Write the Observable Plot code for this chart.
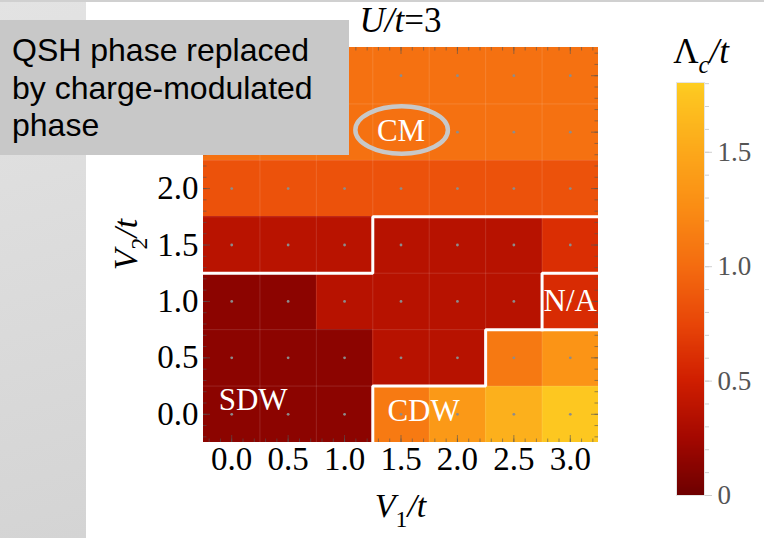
<!DOCTYPE html>
<html>
<head>
<meta charset="utf-8">
<script src="https://cdn.jsdelivr.net/npm/d3@7"></script>
<script src="https://cdn.jsdelivr.net/npm/@observablehq/plot@0.6"></script>
<style>
  body { margin: 0; background: #fff; }
  #chart { position: relative; width: 764px; height: 538px; overflow: hidden; background: #fff; }
  #strip { position: absolute; left: 0; top: 0; width: 86px; height: 538px;
           background: linear-gradient(165deg, #e3e3e3 0%, #d4d4d4 100%); }
  #topline { position: absolute; left: 0; top: 0; width: 764px; height: 2px; background: #d0d0d0; }
  #chart svg { position: absolute; left: 0; top: 0; }
  #note { position: absolute; left: 0; top: 20px; width: 349px; height: 135px; box-sizing: border-box;
          padding: 12px 0 0 12px; background: #c8c8c8; color: #000; white-space: nowrap;
          font-family: "Liberation Sans", Arial, sans-serif; font-size: 32px; line-height: 37.5px; }
</style>
</head>
<body>
<div id="chart">
  <div id="strip"></div>
  <div id="topline"></div>
  <div id="note">QSH phase replaced<br>by charge-modulated<br>phase</div>
</div>
<script>
// Grid of nearest- and next-nearest-neighbour interaction strengths
const v1Values = [0, 0.5, 1, 1.5, 2, 2.5, 3];
const v2Values = [0, 0.5, 1, 1.5, 2, 2.5, 3];
// V2 tick labels left of the grid
const v2Labels = [0, 0.5, 1, 1.5, 2];

// Λc/t for each V2 row (bottom to top), one entry per V1 column
const lambdaRows = [
  [0.14, 0.14, 0.14, 1.11, 1.37, 1.57, 1.76], // V2 = 0.0
  [0.14, 0.14, 0.14, 0.36, 0.36, 1.10, 1.32], // V2 = 0.5
  [0.14, 0.14, 0.36, 0.36, 0.36, 0.36, 0.58], // V2 = 1.0
  [0.37, 0.37, 0.37, 0.36, 0.36, 0.36, 0.60], // V2 = 1.5
  [0.83, 0.83, 0.83, 0.83, 0.83, 0.83, 0.83], // V2 = 2.0
  [1.04, 1.04, 1.04, 1.04, 1.04, 1.04, 1.04], // V2 = 2.5
  [1.04, 1.04, 1.04, 1.04, 1.04, 1.04, 1.04]  // V2 = 3.0
];

// Colour bar stops (Λc/t) and colours
const colorStops = [0, 0.25, 0.5, 0.75, 1.0, 1.25, 1.5, 1.75, 1.805];
const colorRamp = ["#6e0000", "#a40800", "#d01e00", "#e84608", "#f46c10", "#fa8c14", "#fca81a", "#fdc520", "#fed022"];
const barTicks = [0, 0.5, 1.0, 1.5];

// Phase boundaries (cell-edge polylines) and phase names
const boundaryIds = ["upper", "cdw", "na"];
const boundaryV1 = [[-0.25, 1.25, 1.25, 3.25], [1.25, 1.25, 2.25, 2.25, 3.25], [2.75, 2.75, 3.25]];
const boundaryV2 = [[1.25, 1.25, 1.75, 1.75], [-0.25, 0.25, 0.25, 0.75, 0.75], [0.75, 1.25, 1.25]];
const phaseNames = ["SDW", "CDW", "N/A", "CM"];
const phaseV1 = [0.19, 1.70, 3.0, 1.50];
const phaseV2 = [0.13, 0.03, 1.0, 2.51];

const cells = v2Values.flatMap((b, i) => v1Values.map((a, j) => ({v1: a, v2: b, lambda: lambdaRows[i][j]})));
const boundaries = boundaryIds.flatMap((id, k) => boundaryV1[k].map((a, j) => ({id, v1: a, v2: boundaryV2[k][j]})));
const phases = phaseNames.map((name, k) => ({name, v1: phaseV1[k], v2: phaseV2[k]}));

const half = (v1Values[1] - v1Values[0]) / 2;
const lo = v1Values[0] - half, hi = v1Values[v1Values.length - 1] + half;
const cellEdges = v1Values.slice(1).map(d => d - half);
const minorTicks = d3.range(-2, 33).map(k => k / 10);
const serif = "Liberation Serif, Times New Roman, serif";
const fmt = d => d.toFixed(1);
const colorOpts = {type: "linear", domain: colorStops, range: colorRamp, interpolate: "rgb", clamp: true};

// Text with italic / subscript runs
function richText(parts, place) {
  return (index, scales, values, dims) => {
    const p = place(dims);
    const t = d3.create("svg:text")
      .attr("x", p.x).attr("y", p.y)
      .attr("text-anchor", "middle")
      .attr("font-family", serif)
      .attr("font-size", p.size)
      .attr("fill", "#000");
    if (p.rotate) t.attr("transform", `rotate(${p.rotate},${p.x},${p.y})`);
    let shifted = 0;
    for (const part of parts) {
      const s = t.append("tspan").text(part.text);
      if (part.italic) s.attr("font-style", "italic");
      const want = part.sub ? 0.28 * p.size : 0;
      if (want !== shifted) { s.attr("dy", want - shifted); shifted = want; }
      if (part.sub) s.attr("font-size", 0.7 * p.size);
    }
    return t.node();
  };
}

// Outline ring around the CM label
function ring(cx, cy, rx, ry) {
  return (index, scales) => {
    const x0 = scales.x(cx), y0 = scales.y(cy);
    return d3.create("svg:ellipse")
      .attr("cx", x0).attr("cy", y0)
      .attr("rx", Math.abs(scales.x(cx + rx) - x0))
      .attr("ry", Math.abs(scales.y(cy + ry) - y0))
      .attr("fill", "none").attr("stroke", "#c8c8c8").attr("stroke-width", 4.5)
      .node();
  };
}

const main = Plot.plot({
  width: 764, height: 538,
  marginLeft: 203, marginRight: 166, marginTop: 47, marginBottom: 96,
  style: {background: "transparent", fontFamily: serif, color: "#000"},
  x: {domain: [lo, hi]},
  y: {domain: [lo, hi]},
  color: colorOpts,
  marks: [
    Plot.rect(cells, {x1: d => d.v1 - half, x2: d => d.v1 + half, y1: d => d.v2 - half, y2: d => d.v2 + half,
                      fill: "lambda", shapeRendering: "crispEdges"}),
    Plot.ruleX(cellEdges, {stroke: "white", strokeOpacity: 0.13}),
    Plot.ruleY(cellEdges, {stroke: "white", strokeOpacity: 0.13}),
    Plot.dot(cells, {x: "v1", y: "v2", r: 1.4, fill: "#8c8c8c", stroke: null}),
    // inward frame ticks
    Plot.ruleX(minorTicks, {y1: lo, y2: lo, insetTop: -3.5, stroke: "#555", strokeOpacity: 0.6}),
    Plot.ruleX(minorTicks, {y1: hi, y2: hi, insetBottom: -3.5, stroke: "#555", strokeOpacity: 0.6}),
    Plot.ruleY(minorTicks, {x1: lo, x2: lo, insetRight: -3.5, stroke: "#555", strokeOpacity: 0.6}),
    Plot.ruleY(minorTicks, {x1: hi, x2: hi, insetLeft: -3.5, stroke: "#555", strokeOpacity: 0.6}),
    Plot.ruleX(v1Values, {y1: lo, y2: lo, insetTop: -7, stroke: "#555", strokeOpacity: 0.6}),
    Plot.ruleX(v1Values, {y1: hi, y2: hi, insetBottom: -7, stroke: "#555", strokeOpacity: 0.6}),
    Plot.ruleY(v2Values, {x1: lo, x2: lo, insetRight: -7, stroke: "#555", strokeOpacity: 0.6}),
    Plot.ruleY(v2Values, {x1: hi, x2: hi, insetLeft: -7, stroke: "#555", strokeOpacity: 0.6}),
    Plot.line(boundaries, {x: "v1", y: "v2", z: "id", stroke: "white", strokeWidth: 3, strokeLinejoin: "miter", strokeLinecap: "square"}),
    Plot.text(phases, {x: "v1", y: "v2", text: "name", fill: "white", fontSize: 31, fontFamily: serif}),
    ring(1.51, 2.515, 0.41, 0.21),
    Plot.axisX(v1Values, {anchor: "bottom", tickSize: 0, tickPadding: 4, tickFormat: fmt, fontSize: 33, label: null}),
    Plot.axisY(v2Labels, {anchor: "left", tickSize: 0, tickPadding: 5, tickFormat: fmt, fontSize: 33, label: null}),
    richText([{text: "U/t", italic: true}, {text: "=3"}],
      d => ({x: (d.marginLeft + d.width - d.marginRight) / 2, y: d.marginTop - 15, size: 35})),
    richText([{text: "V", italic: true}, {text: "1", sub: true}, {text: "/t", italic: true}],
      d => ({x: (d.marginLeft + d.width - d.marginRight) / 2, y: d.height - d.marginBottom + 75, size: 34})),
    richText([{text: "V", italic: true}, {text: "2", sub: true}, {text: "/t", italic: true}],
      d => ({x: d.marginLeft - 66, y: (d.marginTop + d.height - d.marginBottom) / 2, size: 34, rotate: -90}))
  ]
});

const barMax = colorStops[colorStops.length - 1];
const rampSteps = d3.range(0, barMax, 0.005);
const bar = Plot.plot({
  width: 764, height: 538,
  marginLeft: 676, marginRight: 60, marginTop: 82, marginBottom: 43,
  style: {background: "transparent", fontFamily: serif},
  x: {domain: [0, 1], axis: null},
  y: {domain: [0, barMax], axis: null},
  color: colorOpts,
  marks: [
    Plot.rect(rampSteps, {x1: 0, x2: 1, y1: d => d, y2: d => Math.min(d + 0.007, barMax), fill: d => d, shapeRendering: "crispEdges"}),
    Plot.frame({stroke: "#e4e4e4"}),
    Plot.axisY(d3.range(0, 19).map(k => k / 10), {anchor: "right", tickSize: 4, stroke: "#cfcfcf", fill: "none", label: null}),
    Plot.axisY(barTicks, {anchor: "right", tickSize: 7, tickPadding: 6, stroke: "#cfcfcf", fill: "#555",
                          tickFormat: d => d === 0 ? "0" : d.toFixed(1), fontSize: 27, label: null}),
    richText([{text: "Λ"}, {text: "c", sub: true, italic: true}, {text: "/t", italic: true}],
      d => ({x: d.marginLeft + 25, y: 63, size: 35}))
  ]
});

const chart = document.getElementById("chart");
chart.insertBefore(main, document.getElementById("note"));
chart.insertBefore(bar, document.getElementById("note"));
</script>
</body>
</html>
